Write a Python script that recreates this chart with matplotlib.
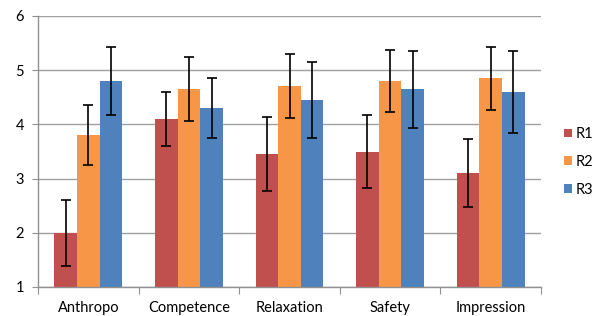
import matplotlib
matplotlib.use("Agg")
import matplotlib.pyplot as plt
import numpy as np

categories = ["Anthropo", "Competence", "Relaxation", "Safety", "Impression"]
series_names = ["R1", "R2", "R3"]
r1 = [2.00, 4.10, 3.45, 3.50, 3.10]
r2 = [3.80, 4.65, 4.70, 4.80, 4.85]
r3 = [4.80, 4.30, 4.45, 4.65, 4.60]
r1_err = [0.61, 0.49, 0.68, 0.68, 0.63]
r2_err = [0.55, 0.59, 0.59, 0.57, 0.58]
r3_err = [0.62, 0.56, 0.71, 0.71, 0.75]
colors = ["#C0504D", "#F79646", "#4F81BD"]
yticks = [1, 2, 3, 4, 5, 6]

plt.rcParams['font.family'] = ['Lato', 'DejaVu Sans']

fig = plt.figure(figsize=(5.97, 3.16), dpi=100)
ax = fig.add_axes([38/597, 1 - 287/316, (541 - 38)/597, (287 - 16)/316])

x = np.arange(len(categories))
w = 0.225
for i, (vals, errs) in enumerate([(r1, r1_err), (r2, r2_err), (r3, r3_err)]):
    ax.bar(x + (i - 1) * w, np.array(vals) - 1, bottom=1, width=w, color=colors[i],
           label=series_names[i], zorder=2)
    ax.errorbar(x + (i - 1) * w, vals, yerr=errs, fmt='none', ecolor='black',
                elinewidth=1.2, capsize=3.5, capthick=1.2, zorder=3)

ax.set_xlim(-0.5, len(categories) - 0.5)
ax.set_ylim(1, 6)
ax.set_yticks(yticks)
ax.set_yticklabels([str(t) for t in yticks])
ax.yaxis.grid(True, color='#A0A0A0', linewidth=1.0, zorder=0)
ax.set_axisbelow(True)

ax.set_xticks(np.arange(-0.5, len(categories), 1.0), minor=False)
ax.set_xticklabels([])
ax.set_xticks(x, minor=True)
ax.set_xticklabels(categories, minor=True)
ax.tick_params(axis='x', which='major', length=5, color='#909090', direction='out')
ax.tick_params(axis='x', which='minor', length=0, pad=10, labelsize=10.5)
ax.tick_params(axis='y', length=4, color='#909090', labelsize=10.5, pad=6)

for s in ['top', 'right']:
    ax.spines[s].set_visible(False)
for s in ['left', 'bottom']:
    ax.spines[s].set_color('#909090')
    ax.spines[s].set_linewidth(1.0)

handles, labels = ax.get_legend_handles_labels()
fig.legend(handles, labels, loc='center left', bbox_to_anchor=(564/597, 1 - 162/316),
           frameon=False, borderpad=0, borderaxespad=0,
           handlelength=0.55, handleheight=0.55, handletextpad=0.25,
           labelspacing=0.95, fontsize=10.5)

fig.savefig("out.png", dpi=100)
